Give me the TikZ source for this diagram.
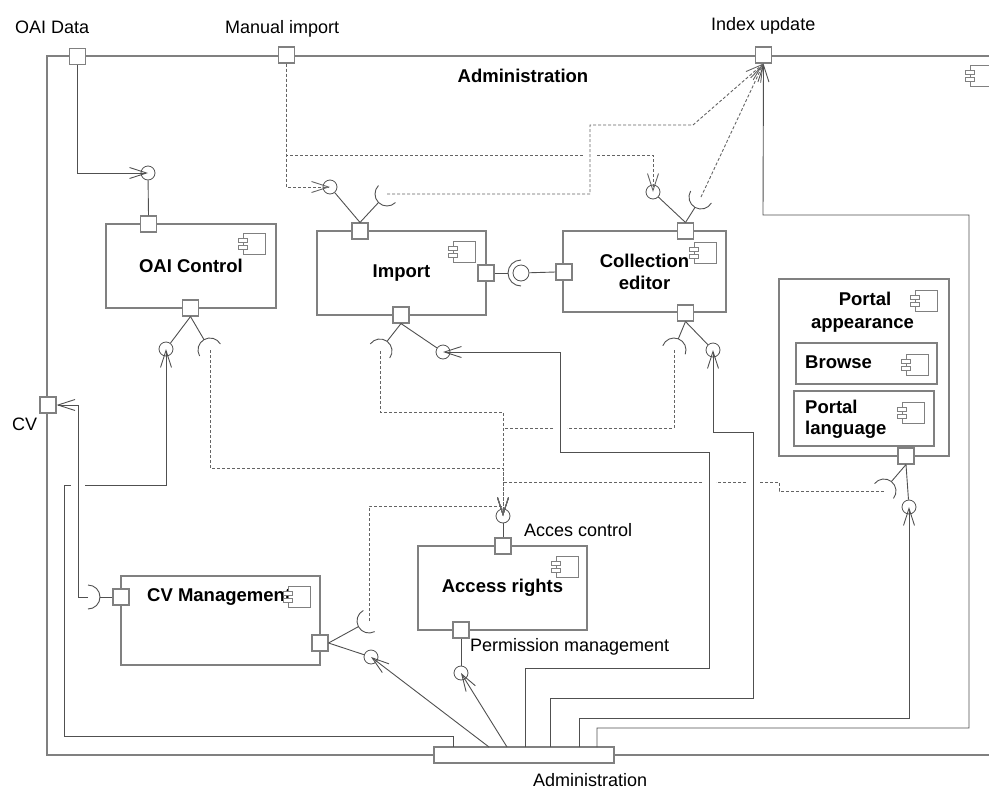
\documentclass[tikz,border=0pt]{standalone}
\usepackage{fontspec}
\setmainfont{Liberation Sans}
\usetikzlibrary{positioning,arrows.meta}
\definecolor{boxgray}{RGB}{128,128,128}
\definecolor{wiregray}{RGB}{80,80,80}
\definecolor{dashgray}{RGB}{100,100,100}

\tikzset{
	comp/.style={draw=boxgray, line width=1.4pt, fill=white, inner sep=0pt,
		font=\bfseries\fontsize{18.5}{22}\selectfont, align=center},
	port/.style={draw=boxgray, line width=1.1pt, fill=white, minimum size=16pt, inner sep=0pt},
	ball/.style={circle, draw=wiregray, line width=0.8pt, minimum size=14pt, inner sep=0pt},
	wire/.style={wiregray, line width=0.9pt},
	dep/.style={dashgray, line width=0.9pt, dash pattern=on 3pt off 2pt},
	lbl/.style={font=\fontsize{18}{21}\selectfont, inner sep=0pt, anchor=base west},
	title/.style={font=\bfseries\fontsize{18.5}{22}\selectfont, inner sep=0pt, anchor=base west},
	compicon/.pic={
		\draw[boxgray, fill=white, line width=1pt] (0,0) rectangle (22,21);
		\draw[boxgray, fill=white, line width=0.8pt] (-4.5,5) rectangle (4.5,9);
		\draw[boxgray, fill=white, line width=0.8pt] (-4.5,12) rectangle (4.5,16);
	},
	>={Straight Barb[length=17pt, width=11pt]}
}

% socket: centre, direction away from the port, radius, touch point
\newcommand{\sock}[4]{%
	\pgfmathsetmacro\sockA{#2 + 90}
	\pgfmathsetmacro\sockB{#2 + 270}
	\pgfmathsetmacro\sockT{#2 + 180}
	\draw[wire] (#1) ++(\sockA:#3) arc[start angle=\sockA, end angle=\sockB, radius=#3];
	\path (#1) ++(\sockT:#3) coordinate (#4);
}

\begin{document}
\begin{tikzpicture}[x=1pt, y=-1pt]
	\useasboundingbox (0,0) rectangle (989,788);
	% package frame
	\draw[boxgray, line width=1.4pt] (47,56) rectangle (1010,755);
	\node[title, anchor=base] (pkgname) at (523,82) {Administration};
	\pic at (970,65) {compicon};
	% components
	\node[comp, minimum width=170pt, minimum height=84pt] (oai) at (191,266) {OAI Control};
	\node[comp, minimum width=169pt, minimum height=84pt] (import) at (401.5,273) {Import};
	\node[comp, minimum width=163pt, minimum height=81pt] (coled) at (644.5,271.5) {Collection\\editor};
	\node[comp, minimum width=170pt, minimum height=177pt] (portal) at (864,367.5) {};
	\node[comp, minimum width=141pt, minimum height=41pt] (browse) at (866.5,363.5) {};
	\node[comp, minimum width=140pt, minimum height=55pt] (plang) at (864,418.5) {};
	\node[comp, minimum width=169pt, minimum height=84pt] (access) at (502.5,588) {Access rights};
	\node[comp, minimum width=199pt, minimum height=89pt] (cvman) at (220.5,620.5) {};
	% component names
	\node[title, anchor=base] (pname) at (865,305) {Portal};
	\node[title, anchor=base] (pname2) at (862.5,328) {appearance};
	\node[title] (bname) at (805,368) {Browse};
	\node[title] (lname) at (805,413) {Portal};
	\node[title] (lname2) at (805,434) {language};
	\node[title] (cvname) at (147,601) {CV Management};
	% component icons
	\pic at (243,233) {compicon};
	\pic at (453,241) {compicon};
	\pic at (694,242) {compicon};
	\pic at (915,290) {compicon};
	\pic at (906,354) {compicon};
	\pic at (902,402) {compicon};
	\pic at (556,556) {compicon};
	\pic at (288,586) {compicon};
	% package ports
	\node[port] (oaidata) at (77.5,56.5) {};
	\node[port] (manport) at (286.5,55) {};
	\node[port] (idxport) at (763.5,55) {};
	\node[port] (cvport) at (48,405) {};
	\node[port, minimum width=180pt] (admport) at (524,755) {};
	\node[lbl] (oaidatalbl) at (15,33) {OAI Data};
	\node[lbl] (manlbl) at (225,33) {Manual import};
	\node[lbl] (idxlbl) at (711,30) {Index update};
	\node[lbl] (cvlbl) at (12,430) {CV};
	\node[lbl] (admlbl) at (533,786) {Administration};
	% component ports
	\node[port] (oaitop) at (148.5,224) {};
	\node[port] (oaibot) at (190.5,308) {};
	\node[port] (imptop) at (360,231) {};
	\node[port] (impright) at (486,273) {};
	\node[port] (impbot) at (401,315) {};
	\node[port] (coltop) at (685.5,231) {};
	\node[port] (colleft) at (564,272) {};
	\node[port] (colbot) at (685.5,313) {};
	\node[port] (portbot) at (906,456) {};
	\node[port] (acctop) at (503,546) {};
	\node[port] (accbot) at (461,630) {};
	\node[port] (cvleft) at (121,597) {};
	\node[port] (cvright) at (320,643) {};
	\node[lbl] (acclbl) at (524,536) {Acces control};
	\node[lbl] (permlbl) at (470,651) {Permission management};
	% provided interfaces
	\node[ball] (oaiball) at (148,173) {};
	\node[ball] (oaiball2) at (166,349) {};
	\node[ball] (impball) at (330,187) {};
	\node[ball] (impball2) at (443,352) {};
	\node[ball] (colball) at (653,192) {};
	\node[ball] (colball2) at (713,350) {};
	\node[ball, minimum size=16pt] (asmball) at (521,273) {};
	\node[ball] (portball) at (909,507) {};
	\node[ball] (accball) at (503,516) {};
	\node[ball] (permball) at (461,673) {};
	\node[ball] (cvball) at (371,657) {};
	% required interfaces
	\coordinate (oaisock) at (210,350);
	\sock{oaisock}{60}{12}{oaitouch}
	\coordinate (impsock) at (387,194);
	\sock{impsock}{-45}{12}{imptouch}
	\coordinate (colsock) at (701,197);
	\sock{colsock}{-60}{12}{coltouch}
	\coordinate (impsock2) at (380,351);
	\sock{impsock2}{126}{12}{imptouch2}
	\coordinate (colsock2) at (674,350);
	\sock{colsock2}{111}{12}{coltouch2}
	\coordinate (portsock) at (884,491);
	\sock{portsock}{128}{12}{porttouch}
	\coordinate (cvsock) at (369,621);
	\sock{cvsock}{-28}{12}{cvtouch}
	\coordinate (cvsockL) at (88,597);
	\sock{cvsockL}{180}{12}{cvtouchL}
	\coordinate (asmsock) at (521,273);
	\sock{asmsock}{0}{13}{asmtouch}
	% port stems
	\draw[wire] (oaitop.north) -- (oaiball);
	\draw[wire] (oaibot.south) -- (oaiball2);
	\draw[wire] (oaibot.south) -- (oaitouch);
	\draw[wire] (imptop.north) -- (impball);
	\draw[wire] (imptop.north) -- (imptouch);
	\draw[wire] (impbot.south) -- (impball2);
	\draw[wire] (impbot.south) -- (imptouch2);
	\draw[wire] (coltop.north) -- (colball);
	\draw[wire] (coltop.north) -- (coltouch);
	\draw[wire] (colbot.south) -- (colball2);
	\draw[wire] (colbot.south) -- (coltouch2);
	\draw[wire] (portbot.south) -- (portball);
	\draw[wire] (portbot.south) -- (porttouch);
	\draw[wire] (accball) -- (acctop.north);
	\draw[wire] (accbot.south) -- (permball);
	\draw[wire] (cvright.east) -- (cvball);
	\draw[wire] (cvright.east) -- (cvtouch);
	\draw[wire] (cvleft.west) -- (cvtouchL);
	\draw[wire] (impright.east) -- (asmtouch);
	\draw[wire] (asmball) -- (colleft.west);
	% outer ports
	\draw[wire, ->] (oaidata.south) |- (oaiball.center);
	\draw[dep, ->] (manport.south) |- (impball.center);
	\draw[dep] (manport.south) |- (583,155);
	\draw[dep, ->] (597,155) -| (colball.center);
	\draw[dep, ->] (impsock) -| (590,125) -- (693,125) -- (idxport.south);
	\draw[dep, ->] (colsock) -- (idxport.south);
	\draw[wire, ->] (cvsockL) -| (78,405) -- (cvport.east);
	% delegation from the administration port
	\coordinate (adm1) at (453,747);
	\coordinate (adm2) at (489,747);
	\coordinate (adm3) at (507,747);
	\coordinate (adm4) at (525,747);
	\coordinate (adm5) at (550,747);
	\coordinate (adm6) at (579,747);
	\coordinate (adm7) at (597,747);
	\draw[wire] (adm1) |- (64,736) |- (71,485);
	\draw[wire, ->] (85,485) -| (oaiball2.center);
	\draw[wire, ->] (adm2) -- (cvball.center);
	\draw[wire, ->] (adm3) -- (permball.center);
	\draw[wire, ->] (adm4) |- (709,668) |- (560,452) |- (impball2.center);
	\draw[wire, ->] (adm5) |- (753,698) |- (713,432) -- (colball2.center);
	\draw[wire, ->] (adm6) |- (909,718) -- (portball.center);
	\draw[wire, ->] (adm7) |- (969,728) |- (763,215) -- (idxport.south);
	% access control dependencies
	\draw[dep, ->] (oaisock) |- (503,468) -- (accball.center);
	\draw[dep, ->] (impsock2) |- (503,412) -- (accball.center);
	\draw[dep] (colsock2) |- (567,428);
	\draw[dep, ->] (553,428) -| (accball.center);
	\draw[dep] (portsock) -| (779,482) -- (760,482);
	\draw[dep] (746,482) -- (716,482);
	\draw[dep, ->] (702,482) -| (accball.center);
	\draw[dep, ->] (cvsock) |- (503,506) -- (accball.center);
\end{tikzpicture}
\end{document}
